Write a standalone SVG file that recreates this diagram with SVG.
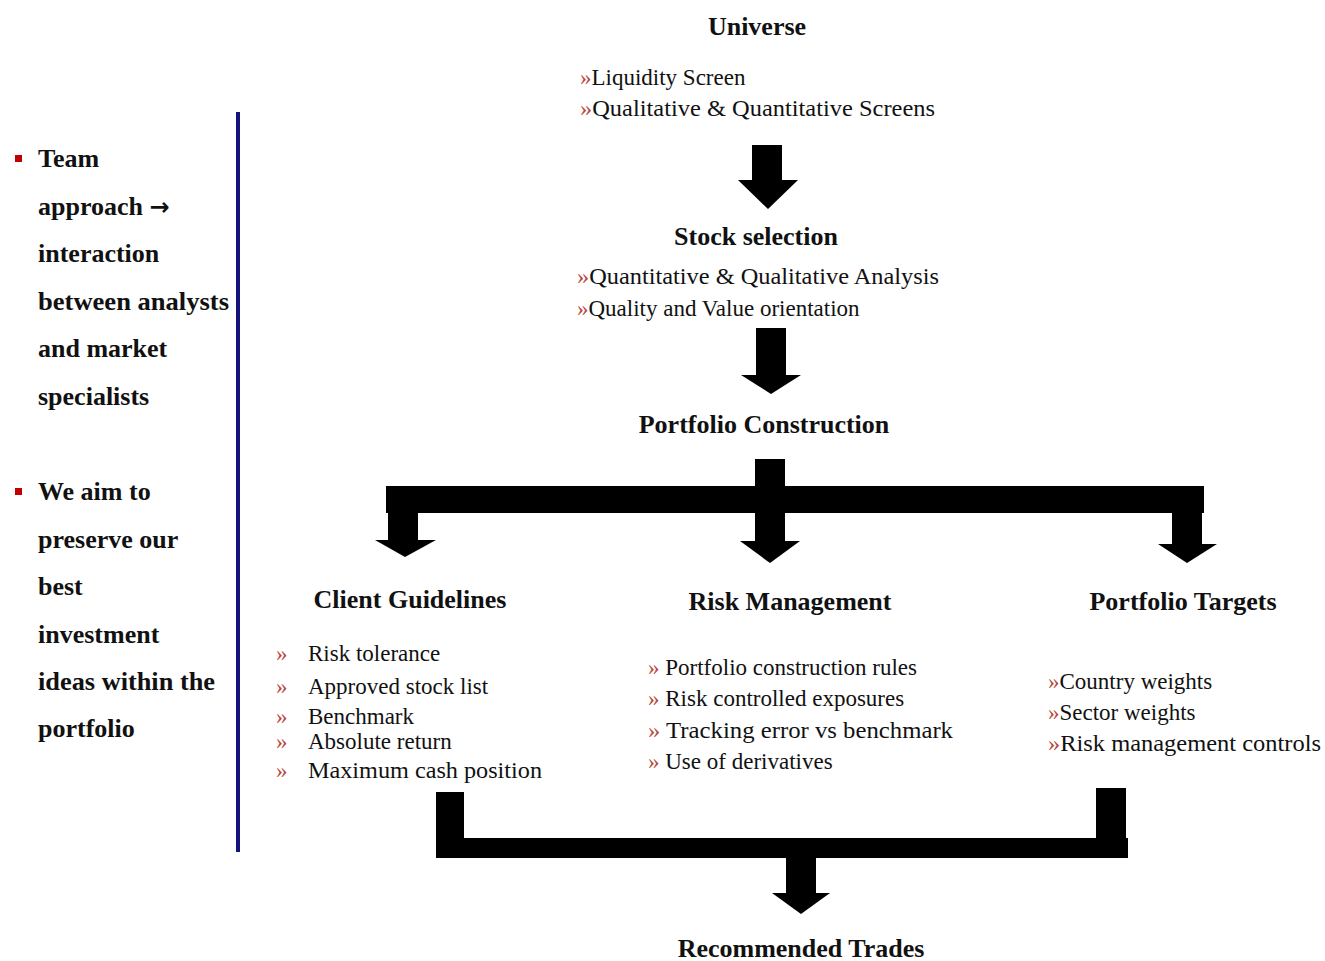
<svg xmlns="http://www.w3.org/2000/svg" width="1325" height="961" viewBox="0 0 1325 961">
<style>
.h{font-family:"Liberation Serif","Times New Roman",serif;font-weight:bold;font-size:26px;fill:#111;}
.l{font-family:"Liberation Serif","Times New Roman",serif;font-size:23px;fill:#111;}
.b{font-family:"Liberation Serif","Times New Roman",serif;font-weight:bold;font-size:26px;fill:#111;}
.c{fill:#b84a3e;}
.k{fill:#000;}
.ar{font-family:"DejaVu Sans",sans-serif;font-weight:bold;font-size:24px;}
</style>
<rect width="1325" height="961" fill="#fff"/>
<g id="side-notes">
<line x1="238" y1="112" x2="238" y2="852" stroke="#14147a" stroke-width="4"/>
<rect x="15" y="155" width="7" height="7" fill="#c00000"/>
<text class="b" x="38" y="167">Team</text>
<text class="b" x="38" y="215">approach <tspan class="ar">→</tspan></text>
<text class="b" x="38" y="262">interaction</text>
<text class="b" x="38" y="310" textLength="191" lengthAdjust="spacingAndGlyphs">between analysts</text>
<text class="b" x="38" y="357">and market</text>
<text class="b" x="38" y="405">specialists</text>
<rect x="15" y="488" width="7" height="7" fill="#c00000"/>
<text class="b" x="38" y="500">We aim to</text>
<text class="b" x="38" y="548">preserve our</text>
<text class="b" x="38" y="595">best</text>
<text class="b" x="38" y="643">investment</text>
<text class="b" x="38" y="690" textLength="177" lengthAdjust="spacingAndGlyphs">ideas within the</text>
<text class="b" x="38" y="737">portfolio</text>
</g>
<g id="universe">
<text class="h" x="757" y="35" text-anchor="middle">Universe</text>
<text class="l" x="580" y="85"><tspan class="c">»</tspan>Liquidity Screen</text>
<text class="l" x="580" y="116" textLength="355" lengthAdjust="spacingAndGlyphs"><tspan class="c">»</tspan>Qualitative &amp; Quantitative Screens</text>
</g>
<g id="stock-selection">
<text class="h" x="756" y="245" text-anchor="middle">Stock selection</text>
<text class="l" x="577" y="284" textLength="362" lengthAdjust="spacingAndGlyphs"><tspan class="c">»</tspan>Quantitative &amp; Qualitative Analysis</text>
<text class="l" x="577" y="316"><tspan class="c">»</tspan>Quality and Value orientation</text>
</g>
<g id="portfolio-construction">
<text class="h" x="764" y="433" text-anchor="middle">Portfolio Construction</text>
</g>
<g id="client-guidelines">
<text class="h" x="410" y="608" text-anchor="middle">Client Guidelines</text>
<text class="l c" x="276" y="661">»</text><text class="l" x="308" y="661">Risk tolerance</text>
<text class="l c" x="276" y="694">»</text><text class="l" x="308" y="694">Approved stock list</text>
<text class="l c" x="276" y="724">»</text><text class="l" x="308" y="724">Benchmark</text>
<text class="l c" x="276" y="749">»</text><text class="l" x="308" y="749">Absolute return</text>
<text class="l c" x="276" y="778">»</text><text class="l" x="308" y="778" textLength="234" lengthAdjust="spacingAndGlyphs">Maximum cash position</text>
</g>
<g id="risk-management">
<text class="h" x="790" y="610" text-anchor="middle">Risk Management</text>
<text class="l" x="648" y="675"><tspan class="c">»</tspan> Portfolio construction rules</text>
<text class="l" x="648" y="706"><tspan class="c">»</tspan> Risk controlled exposures</text>
<text class="l" x="648" y="738" textLength="305" lengthAdjust="spacingAndGlyphs"><tspan class="c">»</tspan> Tracking error vs benchmark</text>
<text class="l" x="648" y="769"><tspan class="c">»</tspan> Use of derivatives</text>
</g>
<g id="portfolio-targets">
<text class="h" x="1183" y="610" text-anchor="middle">Portfolio Targets</text>
<text class="l" x="1048" y="689"><tspan class="c">»</tspan>Country weights</text>
<text class="l" x="1048" y="720"><tspan class="c">»</tspan>Sector weights</text>
<text class="l" x="1048" y="751" textLength="273" lengthAdjust="spacingAndGlyphs"><tspan class="c">»</tspan>Risk management controls</text>
</g>
<g id="recommended-trades">
<text class="h" x="801" y="957" text-anchor="middle">Recommended Trades</text>
</g>
<g id="connectors">
<polygon class="k" points="752,145 782,145 782,180 798,180 768,209 738,180 752,180"/>
<polygon class="k" points="756,328 786,328 786,375 801,375 771,394 741,375 756,375"/>
<rect class="k" x="755" y="459" width="30" height="82"/>
<rect class="k" x="386" y="486" width="818" height="27"/>
<polygon class="k" points="740,541 800,541 770,563"/>
<rect class="k" x="388" y="513" width="30" height="27"/>
<polygon class="k" points="375,540 436,540 405,557"/>
<rect class="k" x="1172" y="513" width="30" height="31"/>
<polygon class="k" points="1158,544 1217,544 1187,563"/>
<rect class="k" x="436" y="792" width="28" height="46"/>
<rect class="k" x="1096" y="788" width="30" height="50"/>
<rect class="k" x="436" y="838" width="692" height="20"/>
<rect class="k" x="786" y="857" width="30" height="37"/>
<polygon class="k" points="772,893 830,893 801,914"/>
</g>
</svg>
